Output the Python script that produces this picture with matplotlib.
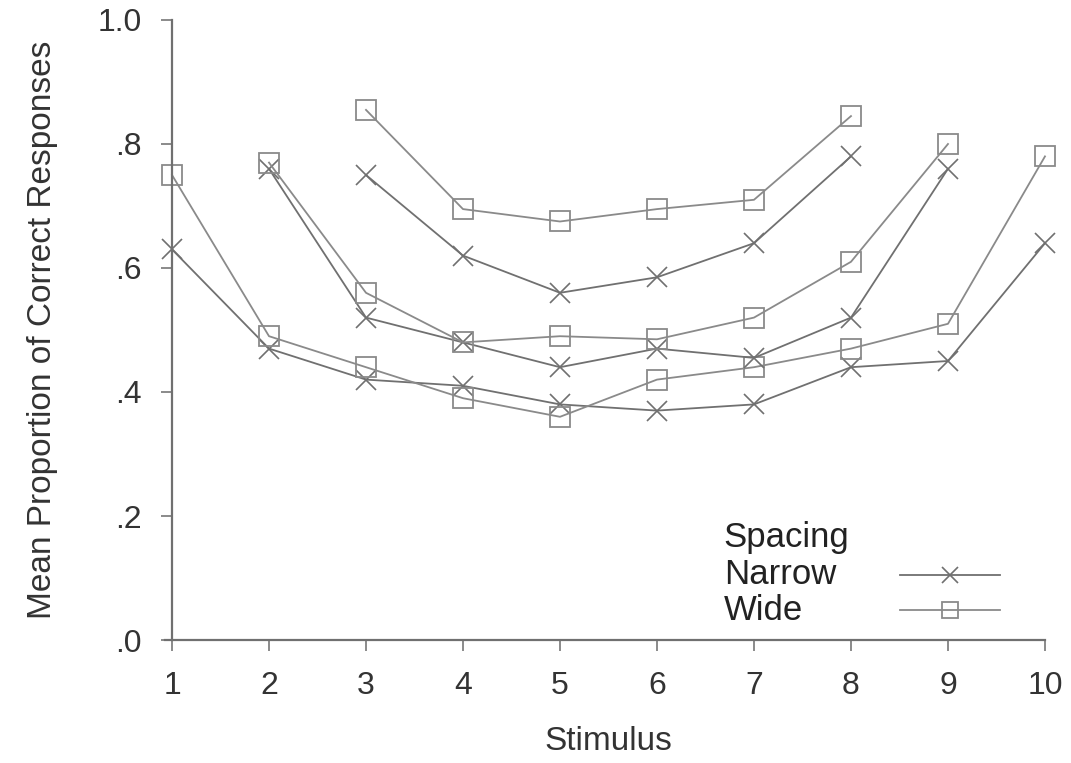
import matplotlib
matplotlib.use("Agg")
from matplotlib import pyplot as plt

plt.rcParams['font.family'] = ['Liberation Sans', 'DejaVu Sans']

stimulus = [1, 2, 3, 4, 5, 6, 7, 8, 9, 10]

# range 1-10
narrow_1_10 = [0.63, 0.47, 0.42, 0.41, 0.38, 0.37, 0.38, 0.44, 0.45, 0.64]
wide_1_10 = [0.75, 0.49, 0.44, 0.39, 0.36, 0.42, 0.44, 0.47, 0.51, 0.78]
# range 2-9
narrow_2_9 = [0.76, 0.52, 0.48, 0.44, 0.47, 0.455, 0.52, 0.76]
wide_2_9 = [0.77, 0.56, 0.48, 0.49, 0.485, 0.52, 0.61, 0.80]
# range 3-8
narrow_3_8 = [0.75, 0.62, 0.56, 0.585, 0.64, 0.78]
wide_3_8 = [0.855, 0.695, 0.675, 0.695, 0.71, 0.845]

yticks = [0.0, 0.2, 0.4, 0.6, 0.8, 1.0]
ytick_labels = ['.0', '.2', '.4', '.6', '.8', '1.0']

fig = plt.figure(figsize=(10.71, 7.63), dpi=100)
ax = fig.add_axes([0.1606, 0.1612, 0.8151, 0.8126])

narrow_style = dict(color='#707070', lw=1.3, marker='x', ms=14, mew=1.2, clip_on=False)
wide_style = dict(color='#8a8a8a', lw=1.3, marker='s', ms=14, mew=1.3, mfc='none',
                  clip_on=False)

ax.plot(stimulus, narrow_1_10, **narrow_style)
ax.plot(stimulus, wide_1_10, **wide_style)
ax.plot(stimulus[1:9], narrow_2_9, **narrow_style)
ax.plot(stimulus[1:9], wide_2_9, **wide_style)
ax.plot(stimulus[2:8], narrow_3_8, **narrow_style)
ax.plot(stimulus[2:8], wide_3_8, **wide_style)

ax.set_xlim(1, 10)
ax.set_ylim(0, 1.0)
ax.set_xticks(stimulus)
ax.set_xticklabels([str(s) for s in stimulus])
ax.set_yticks(yticks)
ax.set_yticklabels(ytick_labels)
ax.tick_params(axis='both', labelsize=23, colors='#777777', labelcolor='#333333',
               length=8, width=1.2)
ax.tick_params(axis='x', pad=14)
ax.tick_params(axis='y', pad=14)

for side in ['top', 'right']:
    ax.spines[side].set_visible(False)
for side in ['left', 'bottom']:
    ax.spines[side].set_color('#707070')
    ax.spines[side].set_linewidth(1.6)
ax.spines['bottom'].set_bounds(0.93, 10)

ax.set_xlabel('Stimulus', fontsize=24, color='#333333', labelpad=18)
ax.set_ylabel('Mean Proportion of Correct Responses', fontsize=24,
              color='#333333', labelpad=28)

# legend drawn by hand: text left, sample lines right
tr = ax.transAxes
ax.text(0.632, 0.165, 'Spacing', fontsize=25, color='#222222', transform=tr, va='center')
ax.text(0.632, 0.105, 'Narrow', fontsize=25, color='#222222', transform=tr, va='center')
ax.text(0.632, 0.048, 'Wide', fontsize=25, color='#222222', transform=tr, va='center')
leg_narrow = dict(narrow_style, ms=11)
leg_wide = dict(wide_style, ms=11)
ax.plot([0.834, 0.948], [0.105, 0.105], transform=tr, **leg_narrow, markevery=[])
ax.plot([0.891], [0.105], transform=tr, **leg_narrow)
ax.plot([0.834, 0.948], [0.048, 0.048], transform=tr, **leg_wide, markevery=[])
ax.plot([0.891], [0.048], transform=tr, **leg_wide)

fig.savefig('out.png', dpi=100)
